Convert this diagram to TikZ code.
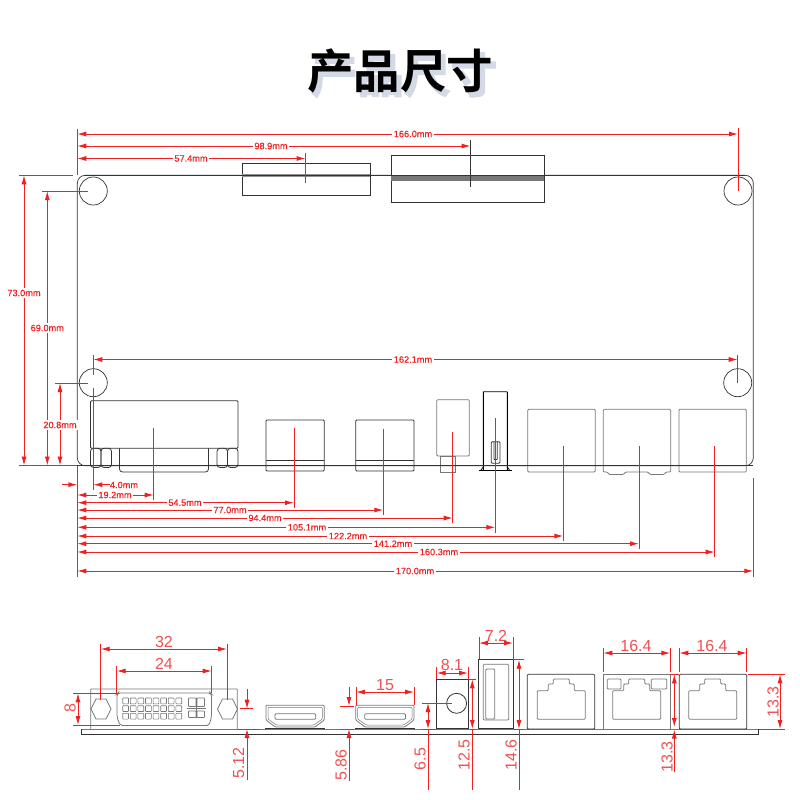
\documentclass[tikz,border=0pt]{standalone}
\usepackage{fontspec}
\setmainfont{Liberation Sans}
\newfontfamily\labfont[FakeBold=0.35]{Liberation Sans}
\newfontfamily\cjkfont{Noto Sans CJK SC}[BoldFont={Noto Sans CJK SC Bold}]
\newfontfamily\cjkshadow[FakeBold=3.5]{Noto Sans CJK SC Bold}
\usetikzlibrary{arrows.meta}
\definecolor{dimred}{HTML}{F02020}
\definecolor{biglab}{HTML}{F05050}
\definecolor{boardk}{HTML}{333333}
\definecolor{partk}{HTML}{777777}
\definecolor{shadowc}{HTML}{D3DAE5}
\tikzset{
  boardline/.style={draw=boardk,line width=0.7pt},
  partline/.style={draw=partk,line width=0.8pt,rounded corners=1pt},
  darkpart/.style={draw=boardk,line width=0.8pt,rounded corners=1pt},
  redline/.style={draw=dimred,line width=0.9pt},
  tipboth/.style={redline,{Latex[length=9pt,width=5pt]}-{Latex[length=9pt,width=5pt]}},
  tipend/.style={redline,-{Latex[length=9pt,width=5pt]}},
  smalllab/.style={font=\labfont\fontsize{9.2}{10}\selectfont,text=dimred,fill=white,inner sep=1.6pt},
  biglabel/.style={font=\fontsize{16}{16}\selectfont,text=biglab,inner sep=0pt},
  pinbox/.style={draw=partk,line width=0.6pt,rounded corners=0.6pt},
}
% name, y, x1, x2, text x, text
\newcommand{\dimH}[6]{\draw[tipboth] (#3,#2) -- (#4,#2);\node[smalllab] (#1) at (#5,#2) {#6};}
% name, x, y1, y2, text y, text
\newcommand{\dimV}[6]{\draw[tipboth] (#2,#3) -- (#2,#4);\node[smalllab] (#1) at (#2,#5) {#6};}
\newcommand{\jackhole}[1]{%
  \draw[partline] (#1-24,719.3) -- (#1-24,690.7) -- (#1-13,690.7) -- (#1-13,684) -- (#1-8,684) -- (#1-8,679) -- (#1+8,679) -- (#1+8,684) -- (#1+13,684) -- (#1+13,690.7) -- (#1+24,690.7) -- (#1+24,719.3) -- cycle;}
\newcommand{\hdmifront}[1]{%
  \draw[partline] (#1,705.3) -- (#1+58.3,705.3) -- (#1+58.3,720) -- (#1+49,727) -- (#1+9.3,727) -- (#1,720) -- cycle;
  \draw[partline,line width=0.5pt] (#1+2,707.3) -- (#1+56.3,707.3) -- (#1+56.3,719) -- (#1+48,725) -- (#1+10.3,725) -- (#1+2,719) -- cycle;
  \draw[partline] (#1+9,713.7) rectangle (#1+49.7,719.3);
  \draw[boardk,line width=1.2pt] (#1-1,728.3) -- (#1+59,728.3);}
\begin{document}
\begin{tikzpicture}[x=1pt,y=-1pt]
\useasboundingbox (0,0) rectangle (800,800);
% title
\node[font=\cjkshadow\fontsize{46.5}{46.5}\selectfont,text=shadowc,inner sep=0pt] (titleshadow) at (404,75) {产品尺寸};
\node[font=\cjkfont\bfseries\fontsize{46.5}{46.5}\selectfont,text=black,inner sep=0pt] (title) at (400,71) {产品尺寸};

% ---------- top view: board
\draw[boardline,rounded corners=8pt] (77.3,175.3) rectangle (753.3,465.7);
\foreach \hx/\hy in {93.3/191,738/191,93.3/382.7,737.7/382.7}
  \draw[boardline] (\hx,\hy) circle (14);
% top connectors
\draw[darkpart,fill=white,rounded corners=0pt] (242,163.3) rectangle (370,195.3);
\fill[partk!80] (242,174.3) rectangle (370,177.3);
\draw[darkpart,fill=white,rounded corners=0pt] (391,155.3) rectangle (544.3,202);
\fill[partk] (391,175.3) rectangle (544.3,180.7);
\draw[boardline] (85,175.3) -- (745,175.3);
% DVI
\draw[darkpart,fill=white] (90.5,400.7) rectangle (238,448.3);
\draw[darkpart] (119.5,448.3) -- (119.5,467) [rounded corners=3pt] -- (119.5,472) -- (208.5,472) -- (208.5,448.3);
\foreach \sx in {90.5,101,217,227.5}
  \draw[darkpart,rounded corners=3pt] (\sx,448.3) rectangle (\sx+10.5,467.5);
% HDMI
\foreach \hx in {266,355.7}{
  \draw[darkpart] (\hx,420) rectangle (\hx+58.3,471);
  \draw[darkpart,rounded corners=0pt] (\hx,460) -- (\hx+58.3,460);
}
% power jack
\draw[partline] (436.7,399.7) rectangle (469.3,456);
\draw[partline,rounded corners=0pt] (440.7,456) rectangle (455.7,472);
% USB
\draw[draw=black,line width=0.9pt,rounded corners=0.5pt] (483.3,470) -- (483.3,391.7) -- (507.3,391.7) -- (507.3,470);
\draw[draw=black,line width=1.1pt] (479,470.7) -- (511.7,470.7);
\draw[draw=black,line width=0.7pt] (483.3,467) -- (480.5,470.7) (507.3,467) -- (510,470.7);
\draw[darkpart] (491.3,441.7) rectangle (500,463.3);
\draw[darkpart,rounded corners=0.5pt] (494,441.7) -- (494,459.5) -- (497.3,459.5) -- (497.3,441.7);
% RJ45 top
\draw[partline] (527.7,409.3) rectangle (595.3,472);
\draw[partline] (603.3,409.3) -- (670.7,409.3) -- (670.7,472) -- (666,472) -- (664,474.5) -- (650,474.5) -- (648,472) -- (625.5,472) -- (623.5,474.5) -- (609,474.5) -- (607.5,472) -- (603.3,472) -- cycle;
\draw[partline] (679,409.3) rectangle (746.3,472);
\draw[boardline] (77.3,465.7) -- (753.3,465.7);

% ---------- top view: dimension lines
\draw[redline] (77.3,129) -- (77.3,175) (738,128) -- (738,191);
\draw[redline] (305.6,153) -- (305.6,183);
\draw[draw=boardk,line width=0.8pt] (470.6,140) -- (470.6,187);
\dimH{d166}{134}{77.3}{738}{413}{166.0mm}
\dimH{d989}{146}{77.3}{470.6}{271}{98.9mm}
\dimH{d574}{158.5}{77.3}{305.6}{191}{57.4mm}
\draw[redline] (19,175) -- (73,175) (42,191) -- (88,191) (55,383) -- (88,383) (19,465.5) -- (77.3,465.5);
\dimV{d730}{24}{175.3}{465.5}{293}{73.0mm}
\dimV{d690}{47.3}{191}{465.5}{328}{69.0mm}
\dimV{d208}{60}{383}{465.5}{425}{20.8mm}
\draw[redline] (93.3,355) -- (93.3,375) (93.3,388) -- (93.3,490) (737.7,355) -- (737.7,383);
\dimH{d1621}{359.5}{93.3}{737.7}{413}{162.1mm}
\draw[redline] (77.3,465.5) -- (77.3,576.7);
\draw[redline] (153.7,428) -- (153.7,500)
  (294,428) -- (294,507.7) (383.3,428.7) -- (383.3,515) (452.7,432) -- (452.7,522.7)
  (495.3,418.3) -- (495.3,532.7) (563.3,445.7) -- (563.3,541) (639,445.7) -- (639,549)
  (714.7,445.7) -- (714.7,557) (753.3,478.3) -- (753.3,576.7);
\draw[tipend] (62,484.7) -- (77.3,484.7);
\draw[tipend] (110,484.7) -- (93.3,484.7);
\node[smalllab,fill=none] (d40) at (124,485) {4.0mm};
\dimH{d192}{495}{77.3}{153.7}{115}{19.2mm}
\dimH{d545}{502.7}{77.3}{294}{185}{54.5mm}
\dimH{d770}{510}{77.3}{383.3}{230}{77.0mm}
\dimH{d944}{518}{77.3}{452.7}{265}{94.4mm}
\dimH{d1051}{527.3}{77.3}{495.3}{307}{105.1mm}
\dimH{d1222}{536}{77.3}{563.3}{348}{122.2mm}
\dimH{d1412}{543.7}{77.3}{639}{393}{141.2mm}
\dimH{d1603}{552}{77.3}{714.7}{439}{160.3mm}
\dimH{d1700}{571}{77.3}{753.3}{415}{170.0mm}

% ---------- front view
\draw[draw=partk,line width=0.8pt] (81.3,729) -- (758.7,729);
\draw[draw=boardk,line width=1pt] (81.3,734) -- (758.7,734) (81.3,729) -- (81.3,734) (758.7,729) -- (758.7,734);
% DVI front
\draw[partline,rounded corners=0.5pt] (90.7,729) -- (90.7,689) -- (237.3,689) -- (237.3,729);
\foreach \cx in {101,227.5}
  \draw[partline,rounded corners=0pt] (\cx-10,709) -- (\cx-5,699) -- (\cx+5,699) -- (\cx+10,709) -- (\cx+5,719) -- (\cx-5,719) -- cycle;
\draw[partline,rounded corners=2pt] (118,693) -- (210.5,693) -- (211.5,694) -- (211.5,717) -- (209,725.5) -- (120,725.5) -- (117,717) -- (117,694) -- cycle;
\foreach \py in {701,708.7,716.3}
  \foreach \pc in {0,...,7}
    \draw[pinbox] (122.7+\pc*7.6,\py-3) rectangle +(5.8,5.8);
\draw[pinbox] (188.5,701-3) rectangle (196,706.5);
\draw[pinbox] (197,701-3) rectangle (204.5,706.5);
\draw[pinbox] (188.5,711) rectangle (196,717.5);
\draw[pinbox] (197,711) rectangle (204.5,717.5);
\draw[draw=partk,line width=0.9pt] (186.5,708.7) -- (206,708.7) (196.5,698) -- (196.5,717.5);
% HDMI front
\hdmifront{266}
\hdmifront{355.7}
% Power front
\draw[draw=boardk,line width=0.8pt] (436.7,679.3) rectangle (468.7,728.7);
\draw[draw=boardk,line width=0.8pt] (456.6,703.3) circle (10);
% USB front
\draw[draw=boardk,line width=0.9pt] (478.7,659.7) rectangle (513,728.7);
\draw[partline] (483.3,664.3) rectangle (508.7,720);
\draw[partline] (485.7,669) rectangle (494.7,719);
% RJ45 front
\draw[darkpart] (527.3,674.3) rectangle (594.7,729);
\draw[draw=partk,line width=0.8pt] (603.3,729) -- (603.3,674.3) -- (670.3,674.3) -- (670.3,729);
\draw[darkpart] (679.3,674.3) rectangle (746.7,729);
\jackhole{561.3}
\jackhole{636.7}
\jackhole{712.7}
\draw[partline,fill=white] (607.3,679) rectangle (621,689);
\draw[partline,fill=white] (651.3,679) rectangle (666.7,689);

% ---------- front view: dimensions
\draw[redline] (100.7,644) -- (100.7,700) (227,644) -- (227,700);
\draw[tipboth] (100.7,649) -- (227,649);
\node[biglabel] (f32) at (164,642) {32};
\draw[redline] (116.7,666) -- (116.7,693) (211.7,666) -- (211.7,693);
\draw[tipboth] (116.7,671) -- (211.7,671);
\node[biglabel] (f24) at (164,664) {24};
\draw[redline] (73,693.3) -- (118,693.3) (73,725) -- (120,725);
\draw[tipboth] (78,693.3) -- (78,725);
\node[biglabel,rotate=90] (f8) at (70,708.5) {8};
\draw[redline] (240,708.7) -- (253,708.7) (238,729) -- (260,729);
\draw[tipend] (247,689) -- (247,708.7);
\draw[tipend] (247,780) -- (247,729);
\node[biglabel,rotate=90] (f512) at (238.5,763) {5.12};
\draw[redline] (356,687) -- (356,705) (414,687) -- (414,705);
\draw[tipboth] (356,692) -- (414,692);
\node[biglabel] (f15) at (385,685) {15};
\draw[redline] (340,706) -- (354,706) (340,729) -- (354,729);
\draw[tipend] (349,687) -- (349,706);
\draw[tipend] (349,781) -- (349,729);
\node[biglabel,rotate=90] (f586) at (341,765) {5.86};
\draw[redline] (436.7,667) -- (436.7,679) (468,667) -- (468,679);
\draw[tipboth] (436.7,673) -- (468,673);
\node[biglabel] (f81) at (452,665) {8.1};
\draw[redline] (422,703) -- (452,703) (422,729) -- (436,729);
\draw[tipboth] (428,703) -- (428,729);
\draw[redline] (428,729) -- (428,790);
\node[biglabel,rotate=90] (f65) at (420,759) {6.5};
\draw[redline] (468,679.3) -- (476,679.3) (470,729) -- (476,729);
\draw[tipboth] (472.3,679.3) -- (472.3,729);
\draw[redline] (472.3,729) -- (472.3,790);
\node[biglabel,rotate=90] (f125) at (464,755) {12.5};
\draw[redline] (479,637) -- (479,659) (513,637) -- (513,659);
\draw[tipboth] (479,643) -- (513,643);
\node[biglabel] (f72) at (496,636) {7.2};
\draw[redline] (513,659.7) -- (524,659.7) (514,729) -- (524,729);
\draw[tipboth] (519,659.7) -- (519,729);
\draw[redline] (519,729) -- (519,790);
\node[biglabel,rotate=90] (f146) at (511,755) {14.6};
\draw[redline] (603.3,648) -- (603.3,672) (670.3,648) -- (670.3,672) (679.3,648) -- (679.3,672) (746.7,648) -- (746.7,672);
\draw[tipboth] (603.3,653) -- (670.3,653);
\draw[tipboth] (679.3,653) -- (746.7,653);
\node[biglabel] (f164a) at (636,646) {16.4};
\node[biglabel] (f164b) at (712,646) {16.4};
\draw[redline] (748,674.3) -- (785,674.3) (759,729) -- (785,729);
\draw[tipboth] (780,674.3) -- (780,729);
\node[biglabel,rotate=90] (f133a) at (773,702) {13.3};
\draw[redline] (670,674.3) -- (679,674.3);
\draw[tipboth] (674.3,674.3) -- (674.3,727);
\draw[tipend] (674.3,772) -- (674.3,729.5);
\node[biglabel,rotate=90] (f133b) at (667,757) {13.3};
\end{tikzpicture}
\end{document}
